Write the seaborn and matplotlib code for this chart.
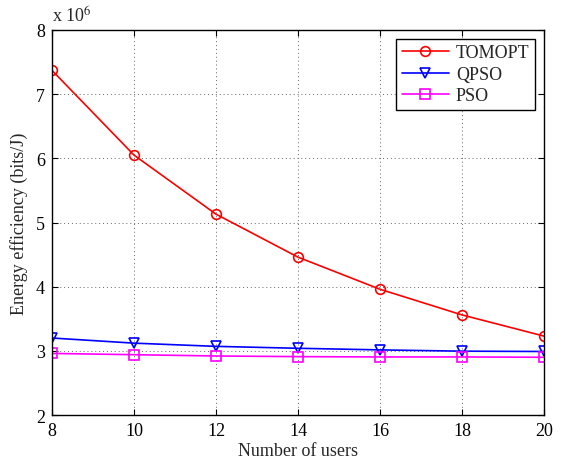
import matplotlib
matplotlib.use("Agg")
import matplotlib.pyplot as plt
import seaborn as sns
import pandas as pd

users = [8, 10, 12, 14, 16, 18, 20]
tomopt = [7.37, 6.05, 5.13, 4.46, 3.96, 3.56, 3.23]
qpso = [3.20, 3.12, 3.07, 3.04, 3.015, 2.995, 2.99]
pso = [2.96, 2.94, 2.92, 2.91, 2.905, 2.905, 2.90]
series_names = ["TOMOPT", "QPSO", "PSO"]
colors = ["#ff0000", "#0000ff", "#ff00ff"]
markers = ["o", "v", "s"]

sns.set_theme(style="white")
plt.rcParams['font.family'] = ['Liberation Serif', 'DejaVu Serif']
plt.rcParams['mathtext.fontset'] = 'stix'

df = pd.DataFrame({
    "users": users * 3,
    "value": tomopt + qpso + pso,
    "series": sum([[n] * len(users) for n in series_names], []),
})

fig = plt.figure(figsize=(5.63, 4.64), dpi=100)
ax = fig.add_axes([0.0924, 0.1034, 0.8738, 0.8298])

for name, c, m in zip(series_names, colors, markers):
    sub = df[df.series == name]
    sns.lineplot(data=sub, x="users", y="value", ax=ax, color=c, marker=m,
                 markersize=7, markerfacecolor="none", markeredgecolor=c,
                 markeredgewidth=1.2, linewidth=1.2, label=name)

ax.set_xlim(8, 20)
ax.set_ylim(2, 8)
ax.set_xticks(users)
ax.set_yticks([2, 3, 4, 5, 6, 7, 8])
ax.grid(True, linestyle=(0, (1, 3)), color="#666666", linewidth=0.7)
for s in ax.spines.values():
    s.set_color("black")
    s.set_linewidth(1.0)
ax.tick_params(direction="in", length=4, width=0.8, colors="black",
               labelsize=13, top=True, right=True, bottom=True, left=True,
               pad=5)
ax.set_xlabel("Number of users", fontsize=13, labelpad=2)
ax.set_ylabel("Energy efficiency (bits/J)", fontsize=13, labelpad=6)
ax.text(0.0, 1.01, r"x 10$^{6}$", transform=ax.transAxes, fontsize=13,
        ha="left", va="bottom")

leg = ax.legend(loc="upper right", fontsize=13, frameon=True, fancybox=False,
                edgecolor="black", framealpha=1, borderpad=0.3,
                handlelength=2.6, handletextpad=0.4, labelspacing=0.25,
                borderaxespad=0.5)
leg.get_frame().set_linewidth(1.0)

fig.savefig("out.png", dpi=100)
